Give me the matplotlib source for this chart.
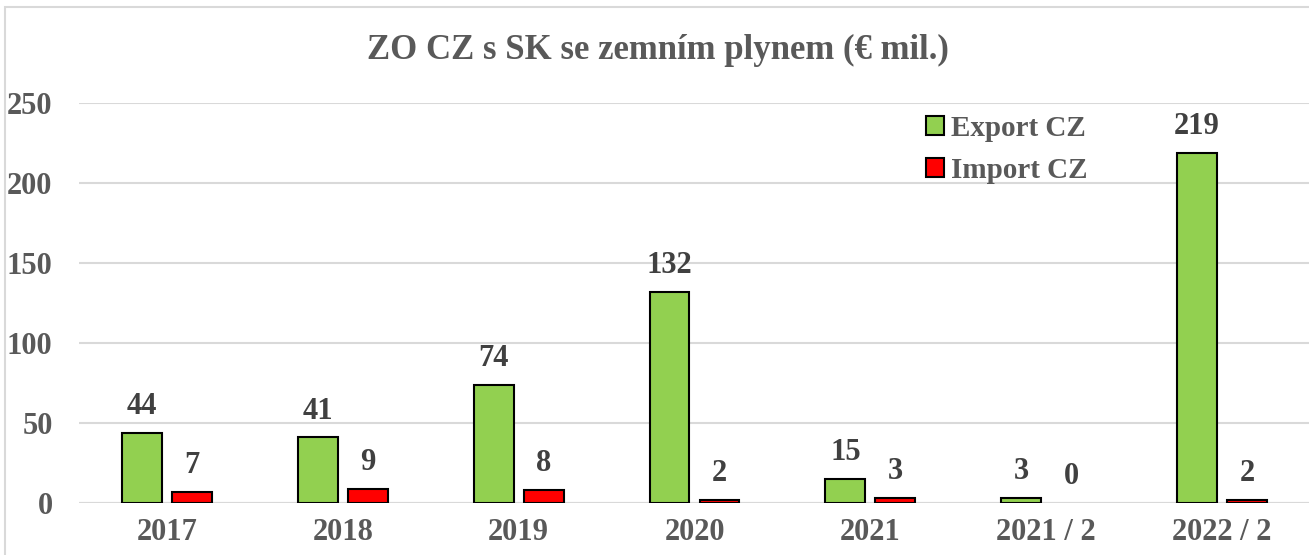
import matplotlib
matplotlib.use("Agg")
import matplotlib.pyplot as plt
import numpy as np
from matplotlib.patches import Patch, Rectangle

categories = ["2017", "2018", "2019", "2020", "2021", "2021 / 2", "2022 / 2"]
export_cz = [44, 41, 74, 132, 15, 3, 219]
import_cz = [7, 9, 8, 2, 3, 0, 2]
yticks = [0, 50, 100, 150, 200, 250]
title = "ZO CZ s SK se zemním plynem (€ mil.)"

plt.rcParams['font.family'] = ['Liberation Serif', 'DejaVu Serif']
plt.rcParams['font.weight'] = 'bold'

GREEN = "#92D050"
RED = "#FF0000"
TXT = "#595959"
LBL = "#404040"
GRID = "#D9D9D9"

fig = plt.figure(figsize=(13.09, 5.55), dpi=100)
ax = fig.add_axes([79/1309, 52/555, 1231/1309, 400/555])

x = np.arange(len(categories))
w = 0.227
off = 0.142
b1 = ax.bar(x - off, export_cz, w, color=GREEN, edgecolor="black", linewidth=1.5, zorder=3)
b2 = ax.bar(x + off, import_cz, w, color=RED, edgecolor="black", linewidth=1.5, zorder=3)
for rects in (b1, b2):
    for r in rects:
        if r.get_height() == 0:
            r.set_linewidth(0)

for rects, vals in ((b1, export_cz), (b2, import_cz)):
    for r, v in zip(rects, vals):
        ax.annotate(f"{v}", (r.get_x() + r.get_width()/2, r.get_height()),
                    xytext=(0, 19), textcoords="offset points",
                    ha="center", va="center", fontsize=22, fontweight="bold",
                    color=LBL)

ax.set_xlim(-0.5, len(categories) - 0.5)
ax.set_ylim(0, 250)
ax.set_yticks(yticks)
ax.set_yticklabels([str(t) for t in yticks])
ax.set_xticks(x)
ax.set_xticklabels(categories)
ax.tick_params(axis="y", length=0, pad=19, labelsize=22, labelcolor=TXT)
ax.tick_params(axis="x", length=0, pad=11, labelsize=22, labelcolor=TXT)
for lab in ax.get_xticklabels() + ax.get_yticklabels():
    lab.set_fontweight("bold")
ax.yaxis.grid(True, color=GRID, linewidth=1.5, zorder=0)
ax.set_axisbelow(True)
for s in ax.spines.values():
    s.set_visible(False)
ax.axhline(0, color=GRID, linewidth=1.5, zorder=2)

fig.text(658/1309, 1 - 50/555, title, ha="center", va="center",
         fontsize=25, fontweight="bold", color=TXT)

handles = [Patch(facecolor=GREEN, edgecolor="black", linewidth=1.5, label="Export CZ"),
           Patch(facecolor=RED, edgecolor="black", linewidth=1.5, label="Import CZ")]
leg = fig.legend(handles=handles, loc="upper left", bbox_to_anchor=(926/1309, 1 - 115/555),
                 frameon=False, fontsize=21, handlelength=0.6, handleheight=0.6,
                 handletextpad=0.25, labelspacing=0.5, borderaxespad=0, borderpad=0)
for t in leg.get_texts():
    t.set_color(TXT)
    t.set_fontweight("bold")

fig.patches.append(Rectangle((5/1309, -0.1), 1.2, 1 - 7/555 + 0.1, transform=fig.transFigure,
                             fill=False, edgecolor=GRID, linewidth=1.5))

fig.savefig("out.png", dpi=100)
